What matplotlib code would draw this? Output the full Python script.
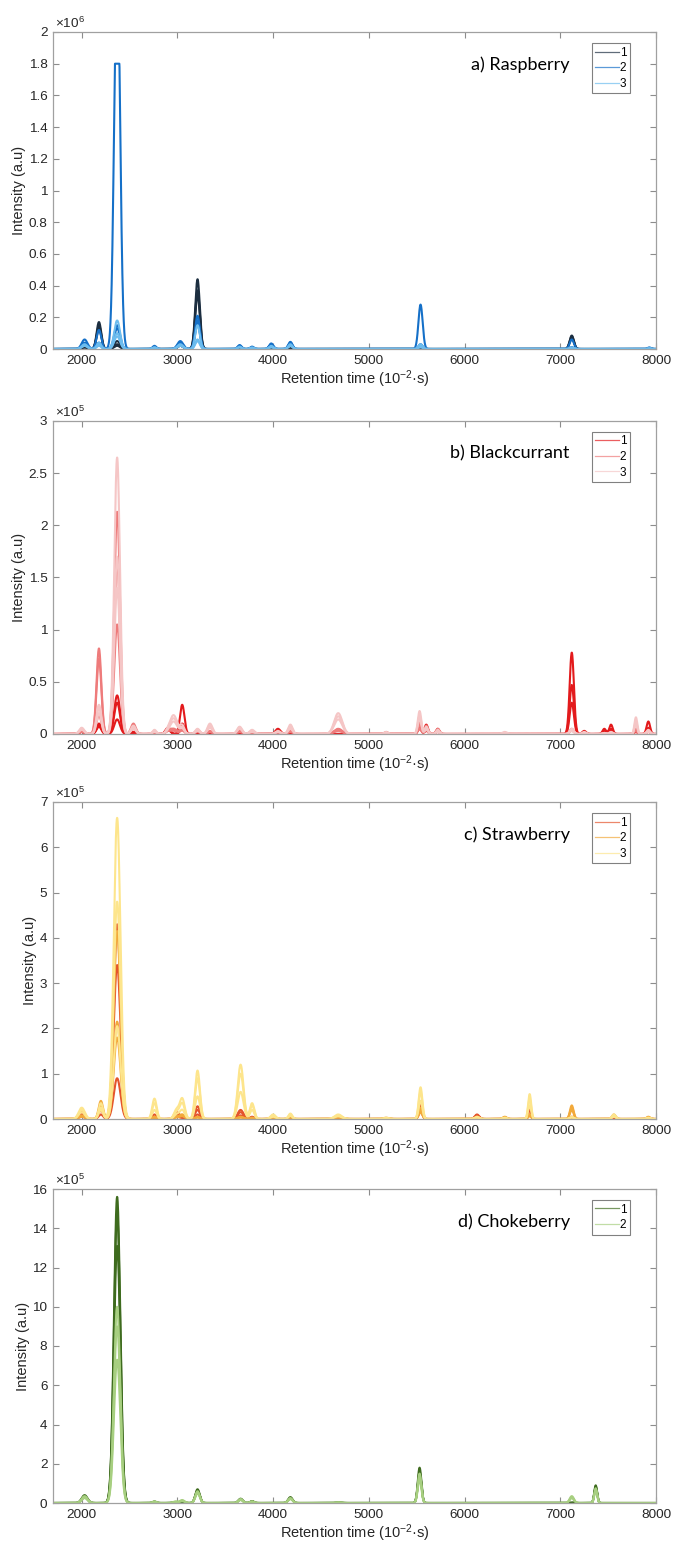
import numpy as np
import matplotlib
matplotlib.use("Agg")
import matplotlib.pyplot as plt
from matplotlib.ticker import FuncFormatter, MultipleLocator

plt.rcParams["font.family"] = ["Liberation Sans", "DejaVu Sans"]
plt.rcParams["mathtext.fontset"] = "custom"
plt.rcParams["mathtext.rm"] = "Liberation Sans"
plt.rcParams["mathtext.it"] = "Liberation Sans"

# retention axis
x_min, x_max = 1700, 8000

# ---- a) Raspberry (x1e6) : peak tables, heights ----
rasp_rt = [2030, 2180, 2370, 2760, 3030, 3210, 3650, 3780, 3980, 4180, 5540, 7120, 7930]
rasp_sig = [30, 24, 30, 20, 30, 24, 20, 20, 22, 22, 22, 22, 18]
rasp_group = [0, 0, 0, 1, 1, 1, 2, 2, 2]
rasp_h = [
    [0.02, 0.17, 0.05, 0.005, 0.03, 0.44, 0.005, 0.0, 0.005, 0.005, 0.01, 0.085, 0.005],
    [0.01, 0.15, 0.03, 0.0, 0.02, 0.37, 0.0, 0.0, 0.0, 0.0, 0.005, 0.08, 0.0],
    [0.01, 0.13, 0.02, 0.0, 0.02, 0.34, 0.0, 0.0, 0.0, 0.0, 0.005, 0.07, 0.0],
    [0.06, 0.12, 2.5, 0.02, 0.05, 0.21, 0.025, 0.015, 0.035, 0.045, 0.28, 0.06, 0.01],
    [0.04, 0.04, 0.15, 0.01, 0.04, 0.18, 0.02, 0.01, 0.03, 0.04, 0.03, 0.01, 0.005],
    [0.03, 0.03, 0.13, 0.01, 0.03, 0.16, 0.02, 0.01, 0.025, 0.03, 0.02, 0.01, 0.005],
    [0.03, 0.04, 0.18, 0.01, 0.03, 0.15, 0.015, 0.01, 0.02, 0.03, 0.03, 0.01, 0.005],
    [0.02, 0.03, 0.10, 0.01, 0.02, 0.06, 0.01, 0.005, 0.015, 0.02, 0.02, 0.005, 0.005],
    [0.02, 0.02, 0.08, 0.005, 0.02, 0.05, 0.01, 0.005, 0.01, 0.02, 0.01, 0.005, 0.0],
]
rasp_clip = 1.8  # saturated detector top
rasp_colors = ["#1c2e40", "#1570c8", "#6cbcee"]

# ---- b) Blackcurrant (x1e5) ----
blk_rt = [2000, 2180, 2370, 2540, 2760, 2900, 2960, 3050, 3210, 3340, 3650, 3780, 4050,
          4180, 4680, 5180, 5530, 5600, 5720, 6420, 7120, 7250, 7460, 7530, 7790, 7920]
blk_sig = [26, 25, 30, 25, 20, 25, 38, 23, 23, 26, 26, 26, 26,
           23, 42, 20, 18, 18, 18, 26, 22, 20, 18, 18, 15, 18]
blk_group = [0, 0, 0, 1, 1, 1, 2, 2, 2]
blk_h = [
    [0.03, 0.10, 0.30, 0.02, 0.0, 0.06, 0.0, 0.28, 0.02, 0.0, 0.0, 0.0, 0.05,
     0.02, 0.0, 0.0, 0.12, 0.09, 0.05, 0.0, 0.78, 0.03, 0.05, 0.09, 0.05, 0.12],
    [0.02, 0.08, 0.37, 0.02, 0.0, 0.05, 0.0, 0.10, 0.02, 0.0, 0.0, 0.0, 0.03,
     0.02, 0.0, 0.0, 0.08, 0.05, 0.03, 0.0, 0.47, 0.02, 0.03, 0.05, 0.03, 0.06],
    [0.02, 0.07, 0.14, 0.01, 0.0, 0.04, 0.0, 0.05, 0.01, 0.0, 0.0, 0.0, 0.02,
     0.01, 0.0, 0.0, 0.05, 0.03, 0.02, 0.0, 0.30, 0.01, 0.02, 0.03, 0.02, 0.04],
    [0.04, 0.72, 2.13, 0.10, 0.02, 0.03, 0.05, 0.05, 0.04, 0.03, 0.04, 0.02, 0.02,
     0.04, 0.05, 0.02, 0.10, 0.08, 0.05, 0.01, 0.05, 0.01, 0.01, 0.02, 0.05, 0.03],
    [0.03, 0.82, 1.65, 0.08, 0.02, 0.02, 0.04, 0.04, 0.03, 0.02, 0.03, 0.02, 0.02,
     0.03, 0.04, 0.01, 0.08, 0.06, 0.04, 0.01, 0.04, 0.01, 0.01, 0.01, 0.04, 0.02],
    [0.02, 0.18, 1.05, 0.05, 0.01, 0.02, 0.03, 0.03, 0.02, 0.02, 0.02, 0.01, 0.01,
     0.02, 0.03, 0.01, 0.05, 0.04, 0.03, 0.0, 0.03, 0.0, 0.0, 0.01, 0.03, 0.02],
    [0.06, 0.28, 2.65, 0.08, 0.04, 0.02, 0.18, 0.08, 0.05, 0.10, 0.07, 0.04, 0.03,
     0.09, 0.20, 0.02, 0.22, 0.07, 0.04, 0.02, 0.05, 0.02, 0.01, 0.02, 0.16, 0.04],
    [0.05, 0.25, 1.70, 0.06, 0.03, 0.02, 0.15, 0.06, 0.04, 0.08, 0.06, 0.03, 0.02,
     0.07, 0.17, 0.01, 0.18, 0.05, 0.03, 0.01, 0.04, 0.01, 0.01, 0.01, 0.12, 0.03],
    [0.04, 0.20, 1.40, 0.05, 0.02, 0.01, 0.12, 0.05, 0.03, 0.06, 0.05, 0.02, 0.02,
     0.05, 0.14, 0.01, 0.14, 0.04, 0.02, 0.01, 0.03, 0.01, 0.0, 0.01, 0.09, 0.02],
]
blk_colors = ["#e31a1c", "#ee7b7b", "#f5c6c6"]

# ---- c) Strawberry (x1e5) ----
str_rt = [2000, 2200, 2370, 2760, 2990, 3050, 3210, 3660, 3780, 4000,
          4180, 4680, 5180, 5540, 6130, 6420, 6680, 7120, 7560, 7920]
str_sig = [32, 23, 35, 23, 26, 26, 25, 30, 23, 26,
           20, 38, 26, 19, 23, 20, 16, 19, 19, 19]
str_group = [0, 0, 0, 1, 1, 1, 2, 2, 2]
str_h = [
    [0.15, 0.30, 4.30, 0.10, 0.15, 0.05, 0.28, 0.20, 0.05, 0.05,
     0.05, 0.02, 0.02, 0.40, 0.10, 0.03, 0.25, 0.05, 0.03, 0.02],
    [0.10, 0.20, 3.40, 0.05, 0.10, 0.03, 0.20, 0.15, 0.03, 0.03,
     0.03, 0.02, 0.01, 0.30, 0.08, 0.02, 0.20, 0.03, 0.02, 0.01],
    [0.05, 0.10, 0.90, 0.03, 0.05, 0.02, 0.10, 0.08, 0.02, 0.02,
     0.02, 0.01, 0.01, 0.15, 0.05, 0.01, 0.10, 0.02, 0.01, 0.01],
    [0.08, 0.40, 4.15, 0.05, 0.05, 0.10, 0.05, 0.05, 0.03, 0.03,
     0.05, 0.05, 0.03, 0.25, 0.05, 0.05, 0.10, 0.30, 0.10, 0.05],
    [0.06, 0.30, 2.15, 0.04, 0.04, 0.08, 0.04, 0.04, 0.02, 0.02,
     0.04, 0.04, 0.02, 0.20, 0.04, 0.04, 0.08, 0.25, 0.08, 0.04],
    [0.05, 0.25, 1.80, 0.03, 0.03, 0.06, 0.03, 0.03, 0.02, 0.02,
     0.03, 0.03, 0.02, 0.15, 0.03, 0.03, 0.06, 0.20, 0.06, 0.03],
    [0.25, 0.35, 6.65, 0.45, 0.20, 0.45, 1.07, 1.20, 0.35, 0.10,
     0.12, 0.10, 0.02, 0.70, 0.05, 0.03, 0.55, 0.05, 0.10, 0.03],
    [0.20, 0.25, 4.80, 0.35, 0.15, 0.35, 0.90, 1.00, 0.30, 0.08,
     0.10, 0.08, 0.02, 0.60, 0.04, 0.02, 0.45, 0.04, 0.08, 0.02],
    [0.15, 0.20, 2.05, 0.20, 0.10, 0.20, 0.50, 0.60, 0.20, 0.05,
     0.07, 0.06, 0.01, 0.40, 0.03, 0.02, 0.30, 0.03, 0.05, 0.02],
]
str_colors = ["#e4542c", "#f2a93b", "#fde58c"]

# ---- d) Chokeberry (x1e5) ----
chk_rt = [2030, 2370, 2760, 2980, 3050, 3210, 3660, 3780, 4180, 4680, 5530, 7120, 7370]
chk_sig = [30, 33, 20, 25, 23, 23, 23, 20, 23, 26, 19, 22, 15]
chk_group = [0, 0, 0, 1, 1, 1]
chk_h = [
    [0.40, 15.6, 0.08, 0.05, 0.10, 0.70, 0.22, 0.10, 0.30, 0.03, 1.80, 0.02, 0.90],
    [0.35, 14.7, 0.06, 0.04, 0.08, 0.65, 0.20, 0.08, 0.26, 0.02, 1.60, 0.02, 0.85],
    [0.30, 13.1, 0.05, 0.04, 0.07, 0.60, 0.18, 0.07, 0.23, 0.02, 1.50, 0.01, 0.80],
    [0.35, 10.0, 0.08, 0.08, 0.15, 0.60, 0.20, 0.08, 0.25, 0.03, 1.50, 0.35, 0.75],
    [0.30, 9.0, 0.06, 0.06, 0.12, 0.55, 0.18, 0.07, 0.22, 0.02, 1.40, 0.30, 0.70],
    [0.25, 7.3, 0.05, 0.05, 0.10, 0.50, 0.15, 0.06, 0.20, 0.02, 1.20, 0.25, 0.65],
]
chk_colors = ["#3e6b1e", "#a7cf80"]

panels = [
    ("a) Raspberry", rasp_rt, rasp_sig, rasp_h, rasp_group, rasp_colors, 6, 2, 0.2, rasp_clip),
    ("b) Blackcurrant", blk_rt, blk_sig, blk_h, blk_group, blk_colors, 5, 3, 0.5, None),
    ("c) Strawberry", str_rt, str_sig, str_h, str_group, str_colors, 5, 7, 1, None),
    ("d) Chokeberry", chk_rt, chk_sig, chk_h, chk_group, chk_colors, 5, 16, 2, None),
]

# axes boxes in pixels: (top, bottom)
boxes = [(32, 349), (421, 734), (802, 1119), (1189, 1503)]
W, H = 673, 1542
left_px, right_px = 53, 656

fig = plt.figure(figsize=(W / 100, H / 100), dpi=100)
xx = np.linspace(x_min, x_max, 4000)

for (title, rt, sig, heights, group, colors, expo, ymax, ystep, clip), (top, bot) in zip(panels, boxes):
    ax = fig.add_axes([left_px / W, 1 - bot / H, (right_px - left_px) / W, (bot - top) / H])
    scale = 10 ** expo
    handles = {}
    for g, h in zip(group, heights):
        yy = np.zeros_like(xx)
        for r, s, hv in zip(rt, sig, h):
            yy += hv * np.exp(-(xx - r) ** 2 / (2 * s ** 2))
        if clip is not None:
            yy = np.minimum(yy, clip)
        ln, = ax.plot(xx, yy * scale, color=colors[g], lw=1.5)
        handles.setdefault(g, ln)

    ax.set_xlim(x_min, x_max)
    ax.set_ylim(0, ymax * scale)
    ax.set_xticks(np.arange(2000, 8001, 1000))
    ax.yaxis.set_major_locator(MultipleLocator(ystep * scale))
    ax.yaxis.set_major_formatter(FuncFormatter(lambda v, p, sc=scale: "%g" % round(v / sc, 6)))
    ax.tick_params(direction="in", top=True, right=True, length=4, width=0.8,
                   color="#8c8c8c", labelsize=9.7, labelcolor="#262626", pad=4)
    for sp in ax.spines.values():
        sp.set_color("#a0a0a0")
        sp.set_linewidth(0.9)

    ax.set_ylabel("Intensity (a.u)", fontsize=10.5, color="#262626", labelpad=2)
    ax.set_xlabel("Retention time (10$^{-2}$·s)", fontsize=10.5, color="#262626", labelpad=1)
    ax.text(0.004, 1.003, r"$\times$10$^{%d}$" % expo, transform=ax.transAxes,
            ha="left", va="bottom", fontsize=9.7, color="#262626")

    ax.text(0.857, 0.896, title, transform=ax.transAxes, ha="right", va="center",
            fontsize=13, family=["Lato", "DejaVu Sans"], color="black")

    keys = sorted(handles)
    leg = ax.legend([handles[k] for k in keys], [str(k + 1) for k in keys],
                    loc="upper right", bbox_to_anchor=(0.957, 0.965), fontsize=8.5,
                    handlelength=2.0, handletextpad=0.1, borderpad=0.3,
                    labelspacing=0.3, borderaxespad=0, fancybox=False,
                    markerfirst=True, alignment="right")
    leg.get_frame().set_edgecolor("#606060")
    leg.get_frame().set_linewidth(0.8)
    for lh in leg.get_lines():
        lh.set_linewidth(0.9)
        lh.set_alpha(0.7)

fig.savefig("out.png", dpi=100)
